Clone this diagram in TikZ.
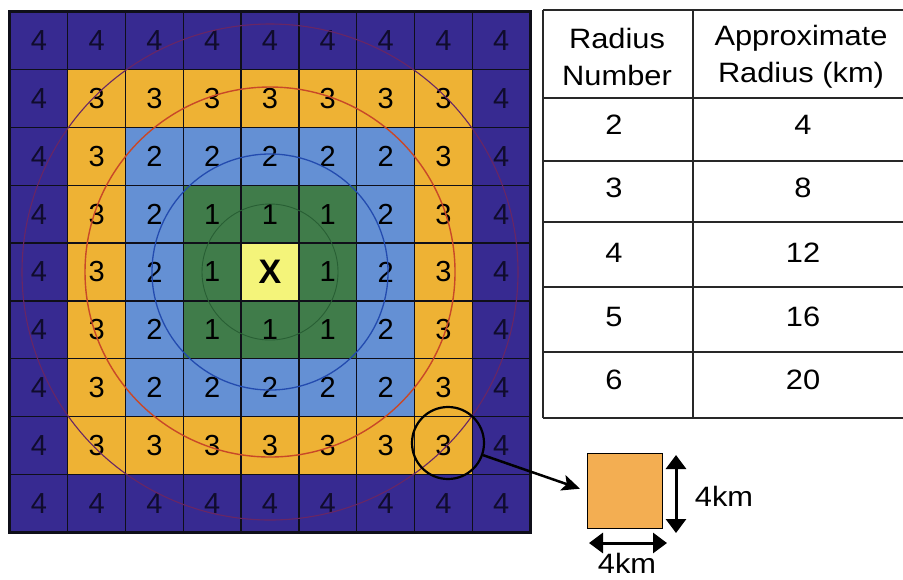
\documentclass[tikz,border=0pt]{standalone}
\usepackage{fontspec}
\setmainfont{Liberation Sans}
\usepackage{graphicx}
\usetikzlibrary{arrows.meta}
\definecolor{navyc}{RGB}{55,42,145}
\definecolor{orangec}{RGB}{238,178,52}
\definecolor{bluec}{RGB}{100,144,212}
\definecolor{greenc}{RGB}{64,124,74}
\definecolor{yellowc}{RGB}{244,244,122}
\definecolor{navytxt}{RGB}{16,12,45}
\definecolor{sqc}{RGB}{243,174,82}
\definecolor{gridline}{RGB}{15,15,25}
\definecolor{tabline}{RGB}{40,40,40}
\definecolor{ringone}{RGB}{40,95,52}
\definecolor{ringtwo}{RGB}{35,75,175}
\definecolor{ringthree}{RGB}{200,72,40}
\definecolor{ringfour}{RGB}{105,38,100}
\newcommand{\tbtxt}[1]{\scalebox{1.1}[1]{#1}}
\begin{document}
\begin{tikzpicture}[x=1pt,y=-1pt,
  cellst/.style={draw=gridline, line width=1.4pt, minimum size=57.78pt, inner sep=0pt, font=\fontsize{29}{34}\selectfont},
  tabtext/.style={inner sep=0pt, align=center, font=\fontsize{28}{37}\selectfont},
  tabrule/.style={draw=tabline, line width=1.5pt},
  dblarrow/.style={line width=3pt, {Triangle[length=14pt,width=20pt]}-{Triangle[length=14pt,width=20pt]}}
]
\useasboundingbox (0,0) rectangle (903,579);
\fill[white] (0,0) rectangle (903,579);
% grid
\foreach \i in {0,...,8}{
  \foreach \j in {0,...,8}{
    \pgfmathtruncatemacro{\dx}{abs(\i-4)}
    \pgfmathtruncatemacro{\dy}{abs(\j-4)}
    \pgfmathtruncatemacro{\lv}{max(\dx,\dy)}
    \ifcase\lv
      \def\cellcol{yellowc}\def\digcol{black}\def\celltext{\fontsize{34}{40}\selectfont\bfseries X}%
    \or
      \def\cellcol{greenc}\def\digcol{black}\def\celltext{1}%
    \or
      \def\cellcol{bluec}\def\digcol{black}\def\celltext{2}%
    \or
      \def\cellcol{orangec}\def\digcol{black}\def\celltext{3}%
    \else
      \def\cellcol{navyc}\def\digcol{navytxt}\def\celltext{4}%
    \fi
    \node[cellst, fill=\cellcol, text=\digcol] (c-\i-\j) at ({10+57.78*(\i+0.5)},{12+57.78*(\j+0.5)}) {\celltext};
  }
}
\draw[line width=2.8pt, draw=gridline] (c-0-0.north west) rectangle (c-8-8.south east);
% rings
\draw[draw=ringone, line width=0.9pt] (c-4-4.center) circle[radius=68];
\draw[draw=ringtwo, line width=1.3pt] (c-4-4.center) circle[radius=118];
\draw[draw=ringthree, line width=1.4pt] (c-4-4.center) circle[radius=185];
\draw[draw=ringfour, line width=1.1pt] (c-4-4.center) circle[radius=248];
% highlight and zoomed cell
\node[draw=black, circle, line width=2.2pt, minimum size=72pt, inner sep=0pt] (hl) at (448,443) {};
\node[draw=black, line width=1.8pt, fill=sqc, minimum size=75pt, inner sep=0pt] (sq) at (625,491) {};
\draw[line width=2.5pt, -{Stealth[length=18pt,width=16pt,inset=4pt]}, shorten >=7pt] (hl) -- (sq.west);
\coordinate (va1) at (676,455);
\coordinate (va2) at (676,533);
\draw[dblarrow] (va1) -- (va2);
\coordinate (ha1) at (589,543);
\coordinate (ha2) at (667,543);
\draw[dblarrow] (ha1) -- (ha2);
\node[tabtext] (lv) at (724,496) {\tbtxt{4km}};
\node[tabtext] (lh) at (627,563) {\tbtxt{4km}};
% table
\draw[tabrule] (543,10) -- (543,418);
\draw[tabrule] (693,10) -- (693,418);
\foreach \yy in {10,98,161,222,287,352,418}{
  \draw[tabrule] (543,\yy) -- (903,\yy);
}
\node[tabtext] (h1) at (617,57) {\tbtxt{Radius}\\\tbtxt{Number}};
\node[tabtext] (h2) at (801,57) {\tbtxt{Approximate}\\\tbtxt{Radius (km)}};
\node[tabtext] (a2) at (614,125) {\tbtxt{2}};
\node[tabtext] (b2) at (803,125) {\tbtxt{4}};
\node[tabtext] (a3) at (614,188) {\tbtxt{3}};
\node[tabtext] (b3) at (803,188) {\tbtxt{8}};
\node[tabtext] (a4) at (614,253) {\tbtxt{4}};
\node[tabtext] (b4) at (803,253) {\tbtxt{12}};
\node[tabtext] (a5) at (614,317) {\tbtxt{5}};
\node[tabtext] (b5) at (803,317) {\tbtxt{16}};
\node[tabtext] (a6) at (614,380) {\tbtxt{6}};
\node[tabtext] (b6) at (803,380) {\tbtxt{20}};
\end{tikzpicture}
\end{document}
